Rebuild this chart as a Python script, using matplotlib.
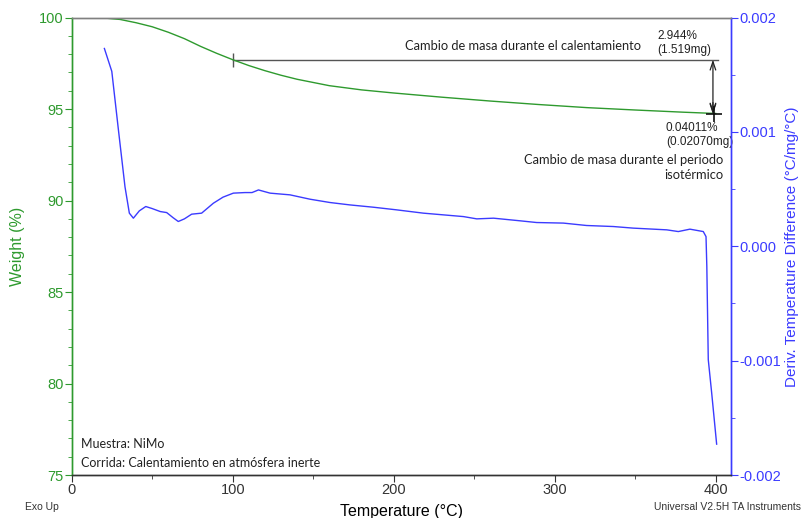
import numpy as np
import matplotlib
matplotlib.use("Agg")
from matplotlib import pyplot as plt
from matplotlib.ticker import MultipleLocator, FuncFormatter

# peso (TGA) frente a temperatura
temp_w = [20, 30, 40, 50, 60, 70, 80, 90, 100, 110, 120, 130, 140, 160, 180,
          200, 230, 260, 290, 320, 350, 380, 400]
weight = [99.98, 99.9, 99.72, 99.5, 99.2, 98.85, 98.43, 98.05, 97.7, 97.38,
          97.1, 96.85, 96.63, 96.28, 96.05, 95.88, 95.65, 95.44, 95.25,
          95.08, 94.95, 94.83, 94.76]

# derivada de la diferencia de temperatura
temp_d = [20.3, 24.9, 29.0, 33.1, 35.8, 38.3, 42.0, 46.0, 50.0, 55.0, 59.0,
          63.0, 66.2, 70.0, 74.5, 80.7, 88.0, 94.0, 100.4, 107.6, 112.0,
          116.0, 123.2, 135.6, 148.0, 160.4, 172.8, 187.3, 201.7, 218.4,
          243.3, 251.6, 262.0, 278.5, 288.8, 305.4, 319.8, 336.4, 348.8,
          369.6, 376.8, 384.0, 392.3, 394.0, 394.5, 395.4, 397.5, 400.6]
deriv = [0.00173, 0.00153, 0.00102, 0.00052, 0.00029, 0.000246, 0.00031,
         0.000348, 0.00033, 0.000304, 0.000295, 0.00025, 0.000217, 0.00024,
         0.000281, 0.00029, 0.000377, 0.00043, 0.000465, 0.00047, 0.00047,
         0.000493, 0.000465, 0.00045, 0.000412, 0.000383, 0.000362,
         0.000342, 0.000319, 0.00029, 0.00026, 0.00024, 0.000246, 0.000223,
         0.000208, 0.000203, 0.000182, 0.000173, 0.000159, 0.000144,
         0.000129, 0.00015, 0.000129, 0.000085, -0.000176, -0.000991,
         -0.00128, -0.00173]

# cambios de masa
t_start = 100
w_start = 97.7
loss_heat = 2.944
loss_heat_mg = 1.519
loss_iso = 0.04011
loss_iso_mg = 0.02070

green = "#2e9a2e"
blue = "#3b3bff"

fig = plt.figure(figsize=(8.03, 5.18), dpi=100)
ax = fig.add_axes([0.0893, 0.083, 0.821, 0.883])
ax2 = ax.twinx()

ax.plot(temp_w, weight, color=green, lw=1.0, zorder=3)
ax2.plot(temp_d, deriv, color=blue, lw=1.0)

ax.set_xlim(0, 409.5)
ax.set_ylim(75, 100)
ax2.set_ylim(-0.002, 0.002)

ax.xaxis.set_major_locator(MultipleLocator(100))
ax.xaxis.set_minor_locator(MultipleLocator(50))
ax.yaxis.set_major_locator(MultipleLocator(5))
ax.yaxis.set_minor_locator(MultipleLocator(1))
ax2.yaxis.set_major_locator(MultipleLocator(0.001))
ax2.yaxis.set_minor_locator(MultipleLocator(0.0005))
ax2.yaxis.set_major_formatter(FuncFormatter(lambda v, p: f"{v:.3f}".replace("-0.000", "0.000")))

tick_font = "Liberation Sans"
ax.tick_params(axis="x", which="major", length=5, labelsize=10.5, colors="#333333", pad=1)
ax.tick_params(axis="x", which="minor", length=3, colors="#333333")
ax.tick_params(axis="y", which="major", length=5, labelsize=10.5, colors=green, pad=1)
ax.tick_params(axis="y", which="minor", length=3, colors=green)
ax2.tick_params(axis="y", which="major", length=5, labelsize=10.5, colors=blue, pad=1)
ax2.tick_params(axis="y", which="minor", length=3, colors=blue)
for lab in ax.get_xticklabels() + ax.get_yticklabels() + ax2.get_yticklabels():
    lab.set_fontfamily(tick_font)

for a in (ax, ax2):
    a.spines["left"].set_color(green)
    a.spines["right"].set_color(blue)
    a.spines["top"].set_color("#808080")
    a.spines["bottom"].set_color("#333333")
    for s in a.spines.values():
        s.set_linewidth(1.0)

ax.set_xlabel("Temperature (°C)", fontsize=11.5, family=tick_font, labelpad=5)
ax.set_ylabel("Weight (%)", fontsize=11.5, family=tick_font, color=green, labelpad=10)
ax2.set_ylabel("Deriv. Temperature Difference (°C/mg/°C)", fontsize=11,
               family=tick_font, color=blue, labelpad=3)

# anotacion del cambio de masa durante el calentamiento
w_end = w_start - loss_heat
ax.plot([t_start, 401.5], [w_start, w_start], color="#555555", lw=1.0)
ax.plot([t_start], [w_start], marker="|", ms=10, mew=1.0, color="#555555")
ax.annotate("", xy=(398.3, w_start), xytext=(398.3, w_end),
            arrowprops=dict(arrowstyle="<->,head_length=0.6,head_width=0.2",
                            color="#222222", lw=0.9, shrinkA=0, shrinkB=0))
ax.annotate("", xy=(398.3, w_end - loss_iso), xytext=(398.3, w_end + 0.6),
            arrowprops=dict(arrowstyle="->,head_length=0.6,head_width=0.2",
                            color="#222222", lw=0.9, shrinkA=0, shrinkB=0))
ax.plot([399.2], [w_end], marker="+", ms=11, mew=1.2, color="#111111", zorder=4)

note_font = "Lato"
ax.text(207, 98.47, "Cambio de masa durante el calentamiento", fontsize=9.3,
        family=note_font, va="center", ha="left", color="#222222")
ax.text(364, 97.9, f"{loss_heat:.3f}%\n({loss_heat_mg:.3f}mg)", fontsize=8.5,
        family=tick_font, va="bottom", ha="left", color="#222222", linespacing=1.25)
ax.text(369, 94.3, f"{loss_iso:.5f}%\n({loss_iso_mg:.5f}mg)", fontsize=8.5,
        family=tick_font, va="top", ha="left", color="#222222", linespacing=1.25)
ax.text(404.6, 92.55, "Cambio de masa durante el periodo\nisotérmico", fontsize=9.3,
        family=note_font, va="top", ha="right", color="#222222", linespacing=1.35,
        multialignment="right")

ax.text(5.8, 76.7, "Muestra: NiMo", fontsize=9, family=note_font, va="center", color="#222222")
ax.text(5.8, 75.68, "Corrida: Calentamiento en atmósfera inerte", fontsize=9,
        family=note_font, va="center", color="#222222")

fig.text(0.031, 0.021, "Exo Up", fontsize=7.5, family=tick_font, color="#333333", va="center")
fig.text(0.998, 0.021, "Universal V2.5H TA Instruments", fontsize=7.5, family=tick_font,
         color="#333333", va="center", ha="right")

fig.savefig("out.png", dpi=100)
